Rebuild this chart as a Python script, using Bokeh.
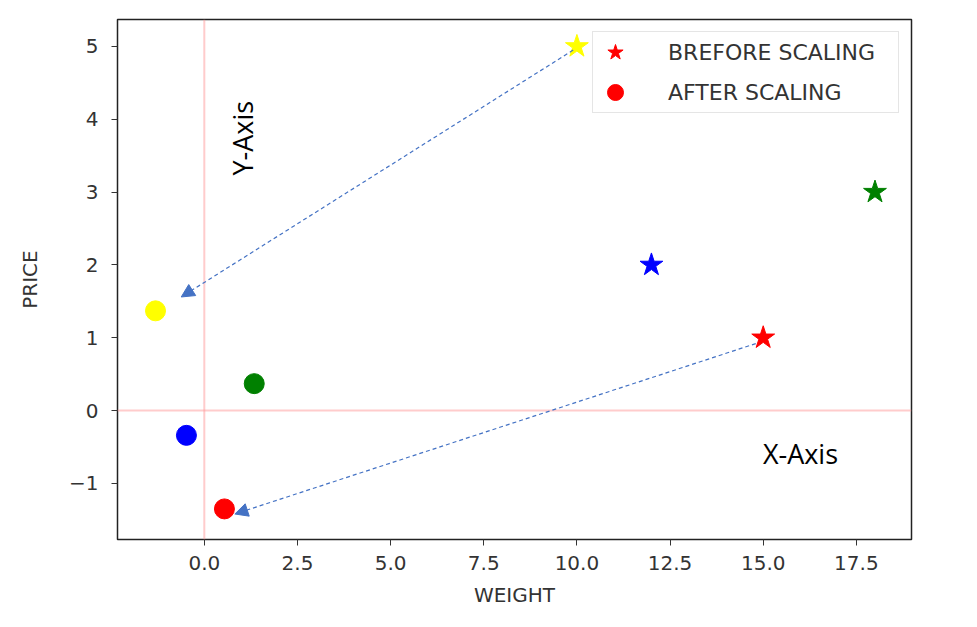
from bokeh.plotting import figure
from bokeh.models import (ColumnDataSource, Range1d, FixedTicker, Span, Arrow, NormalHead,
                          Label, Legend, LegendItem)
from bokeh.embed import file_html
from bokeh.resources import INLINE

# ---- data ----
before_weight = [15, 10, 12, 18]
before_price = [1, 5, 2, 3]
before_colors = ["red", "yellow", "blue", "green"]

after_weight = [0.54, -1.31, -0.48, 1.34]
after_price = [-1.35, 1.37, -0.34, 0.37]
after_colors = ["red", "yellow", "blue", "green"]

# arrows: (start x, start y) -> (end x, end y)
arrow_x_start = [9.9, 14.8]
arrow_y_start = [4.95, 0.92]
arrow_x_end = [-0.62, 0.82]
arrow_y_end = [1.56, -1.42]

x_ticks = [0.0, 2.5, 5.0, 7.5, 10.0, 12.5, 15.0, 17.5]
x_tick_labels = ["0.0", "2.5", "5.0", "7.5", "10.0", "12.5", "15.0", "17.5"]
y_ticks = [-1, 0, 1, 2, 3, 4, 5]
y_tick_labels = ["\u22121", "0", "1", "2", "3", "4", "5"]

legend_labels = ["BREFORE SCALING", "AFTER SCALING"]
axis_texts = ["Y-Axis", "X-Axis"]

FONT = "DejaVu Sans"

p = figure(width=969, height=619, output_backend="svg", toolbar_location=None,
           x_range=Range1d(-2.33, 18.98), y_range=Range1d(-1.77, 5.37),
           min_border_left=117, min_border_right=58, min_border_top=19, min_border_bottom=80)
p.xgrid.visible = False
p.ygrid.visible = False
p.outline_line_color = "#222222"
p.outline_line_width = 1.5
p.outline_line_alpha = 1.0

# axis lines at 0
p.add_layout(Span(location=0, dimension="height", line_color="#ff9999", line_alpha=0.5, line_width=2))
p.add_layout(Span(location=0, dimension="width", line_color="#ff9999", line_alpha=0.5, line_width=2))

src_b = ColumnDataSource(dict(x=before_weight, y=before_price, c=before_colors))
src_a = ColumnDataSource(dict(x=after_weight, y=after_price, c=after_colors))
rb = p.scatter("x", "y", source=src_b, marker="star", size=24, fill_color="c", line_color="c")
ra = p.scatter("x", "y", source=src_a, marker="circle", size=20, fill_color="c", line_color="c")

for xs, ys, xe, ye in zip(arrow_x_start, arrow_y_start, arrow_x_end, arrow_y_end):
    p.add_layout(Arrow(x_start=xs, y_start=ys, x_end=xe, y_end=ye,
                       line_color="#4472c4", line_width=1.2, line_dash="4 3",
                       end=NormalHead(size=13, fill_color="#4472c4", line_color="#4472c4")))

p.add_layout(Label(x=1.02, y=3.74, text=axis_texts[0], angle=90, angle_units="deg",
                   text_align="center", text_baseline="middle",
                   text_font="Open Sans", text_font_size="27px", text_color="black"))
p.add_layout(Label(x=16.0, y=-0.59, text=axis_texts[1],
                   text_align="center", text_baseline="middle",
                   text_font="Open Sans", text_font_size="27px", text_color="black"))

# axes
for ax in (p.xaxis[0], p.yaxis[0]):
    ax.major_label_text_font = FONT
    ax.major_label_text_font_size = "20px"
    ax.major_label_text_color = "#333333"
    ax.axis_label_text_font = FONT
    ax.axis_label_text_font_size = "20px"
    ax.axis_label_text_font_style = "normal"
    ax.axis_label_text_color = "#333333"
    ax.minor_tick_line_color = None
    ax.major_tick_in = 0
    ax.major_tick_out = 6
    ax.major_tick_line_color = "#333333"
    ax.axis_line_color = None

p.xaxis.ticker = FixedTicker(ticks=x_ticks)
p.xaxis.major_label_overrides = {t: l for t, l in zip(x_ticks, x_tick_labels)}
p.yaxis.ticker = FixedTicker(ticks=y_ticks)
p.yaxis.major_label_overrides = {t: l for t, l in zip(y_ticks, y_tick_labels)}
p.xaxis.axis_label = "WEIGHT"
p.yaxis.axis_label = "PRICE"
p.xaxis.major_label_standoff = 10
p.xaxis.axis_label_standoff = 10
p.yaxis.major_label_standoff = 13
p.yaxis.axis_label_standoff = 24

legend = Legend(items=[LegendItem(label=legend_labels[0], renderers=[rb], index=0),
                       LegendItem(label=legend_labels[1], renderers=[ra], index=0)],
                location="top_right",
                label_text_font=FONT, label_text_font_size="22px", label_text_color="#333333",
                border_line_color="#cccccc", border_line_width=1.5,
                glyph_width=44, glyph_height=40, label_standoff=31,
                padding=0, spacing=0, margin=12, label_height=40, label_width=230)
p.add_layout(legend)

open("out.html", "w").write(file_html(p, INLINE))
